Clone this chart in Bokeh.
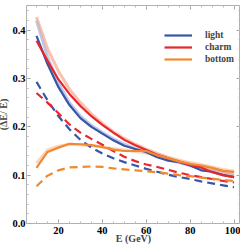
from bokeh.plotting import figure
from bokeh.models import (LinearAxis, FixedTicker, Legend, LegendItem,
                          CustomJSTickFormatter)
from bokeh.embed import file_html
from bokeh.resources import INLINE

E = [10, 15, 20, 25, 30, 35, 40, 45, 50, 55, 60, 65, 70, 75, 80, 85, 90, 95, 100]

light = [0.388, 0.330, 0.282, 0.245, 0.218, 0.200, 0.186, 0.172, 0.161, 0.154, 0.148,
         0.137, 0.130, 0.127, 0.120, 0.110, 0.107, 0.100, 0.096]
light_fit = [0.420, 0.345, 0.290, 0.250, 0.222, 0.203, 0.188, 0.175, 0.164, 0.155, 0.147,
             0.139, 0.132, 0.126, 0.120, 0.114, 0.109, 0.104, 0.099]
charm = [0.378, 0.337, 0.298, 0.268, 0.243, 0.222, 0.204, 0.188, 0.173, 0.162, 0.152,
         0.142, 0.135, 0.128, 0.121, 0.116, 0.106, 0.100, 0.096]
charm_fit = [0.427, 0.362, 0.315, 0.278, 0.250, 0.227, 0.207, 0.190, 0.176, 0.164, 0.154,
             0.145, 0.137, 0.130, 0.124, 0.118, 0.113, 0.108, 0.103]
bottom = [0.115, 0.148, 0.157, 0.165, 0.164, 0.162, 0.158, 0.153, 0.150, 0.150, 0.150,
          0.141, 0.135, 0.128, 0.123, 0.120, 0.115, 0.109, 0.107]
bottom_fit = [0.125, 0.152, 0.160, 0.164, 0.163, 0.161, 0.158, 0.155, 0.152, 0.149, 0.146,
              0.141, 0.136, 0.131, 0.126, 0.122, 0.117, 0.112, 0.108]
light_d = [0.293, 0.255, 0.222, 0.195, 0.173, 0.157, 0.145, 0.135, 0.127, 0.120, 0.113,
           0.107, 0.101, 0.096, 0.092, 0.087, 0.083, 0.079, 0.075]
charm_d = [0.270, 0.250, 0.228, 0.205, 0.188, 0.175, 0.163, 0.150, 0.138, 0.129, 0.122,
           0.117, 0.111, 0.105, 0.100, 0.096, 0.092, 0.088, 0.085]
bottom_d = [0.077, 0.099, 0.110, 0.116, 0.117, 0.118, 0.117, 0.114, 0.112, 0.110, 0.108,
            0.106, 0.103, 0.100, 0.098, 0.095, 0.093, 0.090, 0.088]

x_ticks = [20, 40, 60, 80, 100]
y_ticks = [0.0, 0.1, 0.2, 0.3, 0.4]
names = ["light", "charm", "bottom"]
colors = ["#3557a6", "#e8262b", "#f28830"]
fit_colors = ["#a3b1df", "#f7a78e", "#f9c49e"]

FONT = "Liberation Serif"

p = figure(frame_width=214, frame_height=218, x_range=(5.44, 102.94), y_range=(0.0, 0.451),
           output_backend="svg", toolbar_location=None,
           min_border_left=26, min_border_right=0, min_border_top=0, min_border_bottom=20,
           x_axis_location=None, y_axis_location=None)
p.styles = {"margin-left": "-5px", "margin-top": "5px"}
p.grid.visible = False
p.outline_line_color = "#b0b0b0"
p.outline_line_width = 1
p.background_fill_color = "white"
p.border_fill_color = "white"

blank = CustomJSTickFormatter(code="return '';")


def style_axis(ax, show_labels, standoff=4):
    ax.axis_line_color = None
    ax.major_tick_in = 4
    ax.major_tick_out = 0
    ax.minor_tick_in = 2
    ax.minor_tick_out = 0
    ax.major_tick_line_color = "#a0a0a0"
    ax.minor_tick_line_color = "#b8b8b8"
    ax.major_label_text_font = FONT
    ax.major_label_text_font_style = "bold"
    ax.major_label_text_font_size = "10.5px"
    ax.major_label_text_color = "black"
    ax.major_label_standoff = standoff if show_labels else 0
    ax.axis_label_text_font = FONT
    ax.axis_label_text_font_style = "bold"
    ax.axis_label_text_font_size = "10px"
    ax.axis_label_standoff = 0


xb = LinearAxis(ticker=FixedTicker(ticks=x_ticks, minor_ticks=list(range(5, 105, 5))))
style_axis(xb, True, 3)
xb.axis_label = "E (GeV)"
xb.axis_label_standoff = -4
p.add_layout(xb, "below")

yl = LinearAxis(ticker=FixedTicker(ticks=y_ticks, minor_ticks=[i * 0.02 for i in range(23)]),
                formatter=CustomJSTickFormatter(code="return tick.toFixed(1);"))
style_axis(yl, True, 1)
yl.axis_label = "(\u0394E/ E)"
p.add_layout(yl, "left")

xt = LinearAxis(ticker=FixedTicker(ticks=x_ticks, minor_ticks=list(range(5, 105, 5))),
                formatter=blank)
style_axis(xt, False)
p.add_layout(xt, "above")
yr = LinearAxis(ticker=FixedTicker(ticks=y_ticks, minor_ticks=[i * 0.02 for i in range(23)]),
                formatter=blank)
style_axis(yr, False)
p.add_layout(yr, "right")

fits = [light_fit, charm_fit, bottom_fit]
sols = [light, charm, bottom]
dashes = [light_d, charm_d, bottom_d]

for f, c in zip(fits, fit_colors):
    p.line(E, f, line_color=c, line_width=3, line_alpha=0.7)

items = []
for s, d, c, n in zip(sols, dashes, colors, names):
    r = p.line(E, s, line_color=c, line_width=2.2)
    p.line(E, d, line_color=c, line_width=2.2, line_dash="8 5")
    items.append(LegendItem(label=n, renderers=[r]))

leg = Legend(items=items, location=(138, 158), border_line_color=None,
             background_fill_alpha=0, padding=0, margin=0, spacing=0,
             glyph_width=28, glyph_height=12, label_height=12, label_standoff=13,
             label_text_font=FONT, label_text_font_style="bold",
             label_text_font_size="9.5px")
p.add_layout(leg, "center")

open("out.html", "w").write(file_html(p, INLINE))
